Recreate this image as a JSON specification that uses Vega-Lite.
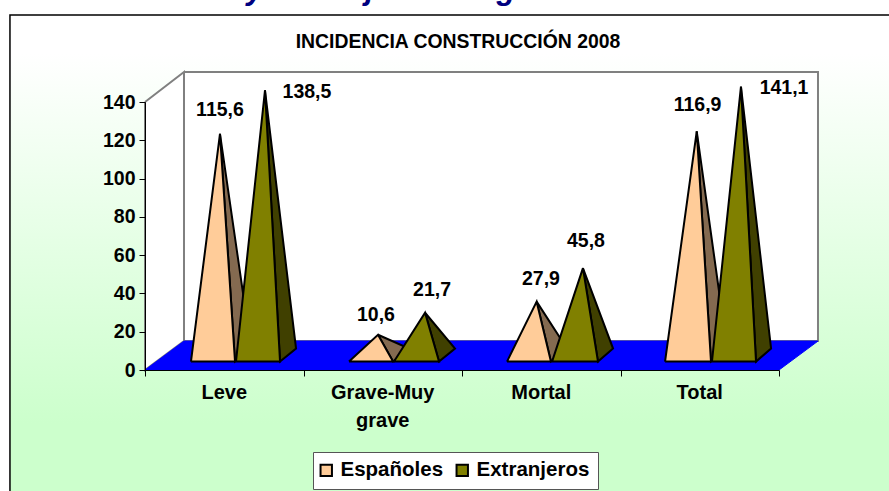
{"$schema":"https://vega.github.io/schema/vega-lite/v6.json","width":634,"height":268,"autosize":{"type":"none"},"padding":{"left":145,"top":102,"right":110,"bottom":121},"background":"white","config":{"view":{"stroke":null},"font":"Liberation Sans","axis":{"labelOverlap":false}},
"datasets":{"fondo":[{"x":-0.852,"x2":4.73,"y":185.4,"y2":-65.3}],
"titulos":[{"etiqueta":"INCIDENCIA CONSTRUCCIÓN 2008","x":1.975,"y":171.3}],
"encabezado":[{"etiqueta":"Accidentes y extranjeros. Régimen General 2008","x":1.804,"y":193.8}],
"caras":[
{"pieza":"wall1","cara":"pared","orden":1,"x":0.246,"y":155.7},{"pieza":"wall1","cara":"pared","orden":2,"x":4.246,"y":155.7},{"pieza":"wall1","cara":"pared","orden":3,"x":4.246,"y":15.1},{"pieza":"wall1","cara":"pared","orden":4,"x":0.246,"y":15.1},{"pieza":"wall1","cara":"pared","orden":5,"x":0.246,"y":155.7},
{"pieza":"wall2","cara":"pared","orden":1,"x":0,"y":140},{"pieza":"wall2","cara":"pared","orden":2,"x":0.246,"y":155.7},{"pieza":"wall2","cara":"pared","orden":3,"x":0.246,"y":15.1},{"pieza":"wall2","cara":"pared","orden":4,"x":0,"y":0},{"pieza":"wall2","cara":"pared","orden":5,"x":0,"y":140},
{"pieza":"suelo","cara":"suelo","orden":1,"x":0,"y":0},{"pieza":"suelo","cara":"suelo","orden":2,"x":0.246,"y":15.1},{"pieza":"suelo","cara":"suelo","orden":3,"x":4.246,"y":15.1},{"pieza":"suelo","cara":"suelo","orden":4,"x":4,"y":0},{"pieza":"suelo","cara":"suelo","orden":5,"x":0,"y":0},

{"pieza":"LeveE","serie":"Españoles","cara":"ladoE","orden":1,"x":0.473,"y":123.4},{"pieza":"LeveE","serie":"Españoles","cara":"ladoE","orden":2,"x":0.568,"y":4.4},{"pieza":"LeveE","serie":"Españoles","cara":"ladoE","orden":3,"x":0.669,"y":11.2},{"pieza":"LeveE","serie":"Españoles","cara":"ladoE","orden":4,"x":0.473,"y":123.4},
{"pieza":"GraveE","serie":"Españoles","cara":"ladoE","orden":1,"x":1.470,"y":18.4},{"pieza":"GraveE","serie":"Españoles","cara":"ladoE","orden":2,"x":1.565,"y":4.4},{"pieza":"GraveE","serie":"Españoles","cara":"ladoE","orden":3,"x":1.666,"y":11.2},{"pieza":"GraveE","serie":"Españoles","cara":"ladoE","orden":4,"x":1.470,"y":18.4},
{"pieza":"MortalE","serie":"Españoles","cara":"ladoE","orden":1,"x":2.471,"y":35.7},{"pieza":"MortalE","serie":"Españoles","cara":"ladoE","orden":2,"x":2.561,"y":4.4},{"pieza":"MortalE","serie":"Españoles","cara":"ladoE","orden":3,"x":2.662,"y":11.2},{"pieza":"MortalE","serie":"Españoles","cara":"ladoE","orden":4,"x":2.471,"y":35.7},
{"pieza":"TotalE","serie":"Españoles","cara":"ladoE","orden":1,"x":3.481,"y":124.7},{"pieza":"TotalE","serie":"Españoles","cara":"ladoE","orden":2,"x":3.571,"y":4.4},{"pieza":"TotalE","serie":"Españoles","cara":"ladoE","orden":3,"x":3.672,"y":11.2},{"pieza":"TotalE","serie":"Españoles","cara":"ladoE","orden":4,"x":3.481,"y":124.7},

{"pieza":"LeveF","serie":"Españoles","cara":"frente","orden":1,"x":0.290,"y":4.4},{"pieza":"LeveF","serie":"Españoles","cara":"frente","orden":2,"x":0.473,"y":123.4},{"pieza":"LeveF","serie":"Españoles","cara":"frente","orden":3,"x":0.568,"y":4.4},{"pieza":"LeveF","serie":"Españoles","cara":"frente","orden":4,"x":0.290,"y":4.4},
{"pieza":"GraveF","serie":"Españoles","cara":"frente","orden":1,"x":1.287,"y":4.4},{"pieza":"GraveF","serie":"Españoles","cara":"frente","orden":2,"x":1.470,"y":18.4},{"pieza":"GraveF","serie":"Españoles","cara":"frente","orden":3,"x":1.565,"y":4.4},{"pieza":"GraveF","serie":"Españoles","cara":"frente","orden":4,"x":1.287,"y":4.4},
{"pieza":"MortalF","serie":"Españoles","cara":"frente","orden":1,"x":2.284,"y":4.4},{"pieza":"MortalF","serie":"Españoles","cara":"frente","orden":2,"x":2.471,"y":35.7},{"pieza":"MortalF","serie":"Españoles","cara":"frente","orden":3,"x":2.561,"y":4.4},{"pieza":"MortalF","serie":"Españoles","cara":"frente","orden":4,"x":2.284,"y":4.4},
{"pieza":"TotalF","serie":"Españoles","cara":"frente","orden":1,"x":3.281,"y":4.4},{"pieza":"TotalF","serie":"Españoles","cara":"frente","orden":2,"x":3.481,"y":124.7},{"pieza":"TotalF","serie":"Españoles","cara":"frente","orden":3,"x":3.571,"y":4.4},{"pieza":"TotalF","serie":"Españoles","cara":"frente","orden":4,"x":3.281,"y":4.4},

{"pieza":"LeveX","serie":"Extranjeros","cara":"ladoX","orden":1,"x":0.757,"y":146.1},{"pieza":"LeveX","serie":"Extranjeros","cara":"ladoX","orden":2,"x":0.852,"y":4.4},{"pieza":"LeveX","serie":"Extranjeros","cara":"ladoX","orden":3,"x":0.953,"y":11.2},{"pieza":"LeveX","serie":"Extranjeros","cara":"ladoX","orden":4,"x":0.757,"y":146.1},
{"pieza":"GraveX","serie":"Extranjeros","cara":"ladoX","orden":1,"x":1.767,"y":29.9},{"pieza":"GraveX","serie":"Extranjeros","cara":"ladoX","orden":2,"x":1.855,"y":4.4},{"pieza":"GraveX","serie":"Extranjeros","cara":"ladoX","orden":3,"x":1.956,"y":11.2},{"pieza":"GraveX","serie":"Extranjeros","cara":"ladoX","orden":4,"x":1.767,"y":29.9},
{"pieza":"MortalX","serie":"Extranjeros","cara":"ladoX","orden":1,"x":2.763,"y":53.2},{"pieza":"MortalX","serie":"Extranjeros","cara":"ladoX","orden":2,"x":2.858,"y":4.4},{"pieza":"MortalX","serie":"Extranjeros","cara":"ladoX","orden":3,"x":2.953,"y":11.2},{"pieza":"MortalX","serie":"Extranjeros","cara":"ladoX","orden":4,"x":2.763,"y":53.2},
{"pieza":"TotalX","serie":"Extranjeros","cara":"ladoX","orden":1,"x":3.760,"y":148.0},{"pieza":"TotalX","serie":"Extranjeros","cara":"ladoX","orden":2,"x":3.855,"y":4.4},{"pieza":"TotalX","serie":"Extranjeros","cara":"ladoX","orden":3,"x":3.950,"y":11.2},{"pieza":"TotalX","serie":"Extranjeros","cara":"ladoX","orden":4,"x":3.760,"y":148.0},

{"pieza":"LeveG","serie":"Extranjeros","cara":"frente","orden":1,"x":0.574,"y":4.4},{"pieza":"LeveG","serie":"Extranjeros","cara":"frente","orden":2,"x":0.757,"y":146.1},{"pieza":"LeveG","serie":"Extranjeros","cara":"frente","orden":3,"x":0.852,"y":4.4},{"pieza":"LeveG","serie":"Extranjeros","cara":"frente","orden":4,"x":0.574,"y":4.4},
{"pieza":"GraveG","serie":"Extranjeros","cara":"frente","orden":1,"x":1.571,"y":4.4},{"pieza":"GraveG","serie":"Extranjeros","cara":"frente","orden":2,"x":1.767,"y":29.9},{"pieza":"GraveG","serie":"Extranjeros","cara":"frente","orden":3,"x":1.855,"y":4.4},{"pieza":"GraveG","serie":"Extranjeros","cara":"frente","orden":4,"x":1.571,"y":4.4},
{"pieza":"MortalG","serie":"Extranjeros","cara":"frente","orden":1,"x":2.568,"y":4.4},{"pieza":"MortalG","serie":"Extranjeros","cara":"frente","orden":2,"x":2.763,"y":53.2},{"pieza":"MortalG","serie":"Extranjeros","cara":"frente","orden":3,"x":2.858,"y":4.4},{"pieza":"MortalG","serie":"Extranjeros","cara":"frente","orden":4,"x":2.568,"y":4.4},
{"pieza":"TotalG","serie":"Extranjeros","cara":"frente","orden":1,"x":3.577,"y":4.4},{"pieza":"TotalG","serie":"Extranjeros","cara":"frente","orden":2,"x":3.760,"y":148.0},{"pieza":"TotalG","serie":"Extranjeros","cara":"frente","orden":3,"x":3.855,"y":4.4},{"pieza":"TotalG","serie":"Extranjeros","cara":"frente","orden":4,"x":3.577,"y":4.4}
],
"valores":[
{"etiqueta":"115,6","x":0.473,"y":136},{"etiqueta":"138,5","x":1.022,"y":145},
{"etiqueta":"10,6","x":1.457,"y":28.7},{"etiqueta":"21,7","x":1.811,"y":41.8},
{"etiqueta":"27,9","x":2.498,"y":47.5},{"etiqueta":"45,8","x":2.782,"y":67.4},
{"etiqueta":"116,9","x":3.486,"y":138.4},{"etiqueta":"141,1","x":4.032,"y":147.3}],
"categorias":[{"etiqueta":"Leve","x":0.5,"y":-12},{"etiqueta":"Grave-Muy\ngrave","x":1.5,"y":-12},{"etiqueta":"Mortal","x":2.5,"y":-12},{"etiqueta":"Total","x":3.5,"y":-12}]},
"encoding":{
"x":{"field":"x","type":"quantitative","scale":{"domain":[0,4]},"axis":{"values":[0,1,2,3,4],"labels":false,"title":null,"grid":false,"tickColor":"black","tickSize":6,"domainColor":"black","zindex":1}},
"y":{"field":"y","type":"quantitative","scale":{"domain":[0,140]},"axis":{"values":[0,20,40,60,80,100,120,140],"title":null,"grid":false,"tickColor":"black","tickSize":6,"domainColor":"black","labelFontSize":19.5,"labelFontWeight":"bold","labelColor":"black","labelPadding":4,"labelOverlap":false,"zindex":1}}},
"layer":[
{"data":{"name":"fondo"},"mark":{"type":"rect","stroke":"black","strokeWidth":1.5,"fill":{"gradient":"linear","x1":0,"y1":0,"x2":0,"y2":1,"stops":[{"offset":0,"color":"#ffffff"},{"offset":0.08,"color":"#ffffff"},{"offset":0.85,"color":"#ccffcc"},{"offset":1,"color":"#ccffcc"}]}},"encoding":{"x2":{"field":"x2"},"y2":{"field":"y2"}}},
{"data":{"name":"encabezado"},"mark":{"type":"text","font":"Liberation Sans","fontSize":31,"fontWeight":"bold","fontStyle":"italic","color":"#000080","baseline":"alphabetic"},"encoding":{"text":{"field":"etiqueta"}}},
{"data":{"name":"titulos"},"mark":{"type":"text","font":"Liberation Sans","fontSize":19.4,"fontWeight":"bold","color":"black","baseline":"middle"},"encoding":{"text":{"field":"etiqueta"}}},
{"data":{"name":"caras"},"transform":[{"filter":"datum.cara==='pared'"}],"mark":{"type":"line","fill":"white","stroke":"#808080","strokeWidth":2},"encoding":{"detail":{"field":"pieza"},"order":{"field":"orden"}}},
{"data":{"name":"caras"},"transform":[{"filter":"datum.cara==='suelo'"}],"mark":{"type":"line","fill":"#0000ff","stroke":"#0000ff","strokeWidth":1},"encoding":{"detail":{"field":"pieza"},"order":{"field":"orden"}}},
{"data":{"name":"caras"},"transform":[{"filter":"datum.cara==='ladoE'"}],"mark":{"type":"line","fill":"#846a50","stroke":"black","strokeWidth":2,"strokeJoin":"miter"},"encoding":{"detail":{"field":"pieza"},"order":{"field":"orden"}}},
{"data":{"name":"caras"},"transform":[{"filter":"datum.cara==='frente'&&datum.serie==='Españoles'"}],"mark":{"type":"line","stroke":"black","strokeWidth":2,"strokeJoin":"miter"},"encoding":{"detail":{"field":"pieza"},"order":{"field":"orden"},"fill":{"field":"serie","type":"nominal","scale":{"domain":["Españoles","Extranjeros"],"range":["#ffcc99","#808000"]},"legend":{"title":null,"orient":"none","legendX":168,"legendY":350,"direction":"horizontal","columns":2,"symbolType":"square","symbolSize":130,"symbolOffset":-5,"symbolStrokeColor":"black","symbolStrokeWidth":2,"labelFont":"Liberation Sans","labelFontSize":20.5,"labelFontWeight":"bold","labelColor":"black","labelLimit":200,"fillColor":"white","strokeColor":"#555555","padding":8,"columnPadding":8}}}},
{"data":{"name":"caras"},"transform":[{"filter":"datum.cara==='ladoX'"}],"mark":{"type":"line","fill":"#404000","stroke":"black","strokeWidth":2,"strokeJoin":"miter"},"encoding":{"detail":{"field":"pieza"},"order":{"field":"orden"}}},
{"data":{"name":"caras"},"transform":[{"filter":"datum.cara==='frente'&&datum.serie==='Extranjeros'"}],"mark":{"type":"line","stroke":"black","strokeWidth":2,"strokeJoin":"miter"},"encoding":{"detail":{"field":"pieza"},"order":{"field":"orden"},"fill":{"field":"serie","type":"nominal"}}},
{"data":{"name":"valores"},"mark":{"type":"text","font":"Liberation Sans","fontSize":19.5,"fontWeight":"bold","color":"black","baseline":"middle"},"encoding":{"text":{"field":"etiqueta"}}},
{"data":{"name":"categorias"},"mark":{"type":"text","font":"Liberation Sans","fontSize":20,"fontWeight":"bold","color":"black","baseline":"middle","lineBreak":"\n","lineHeight":28},"encoding":{"text":{"field":"etiqueta"}}}
]}
